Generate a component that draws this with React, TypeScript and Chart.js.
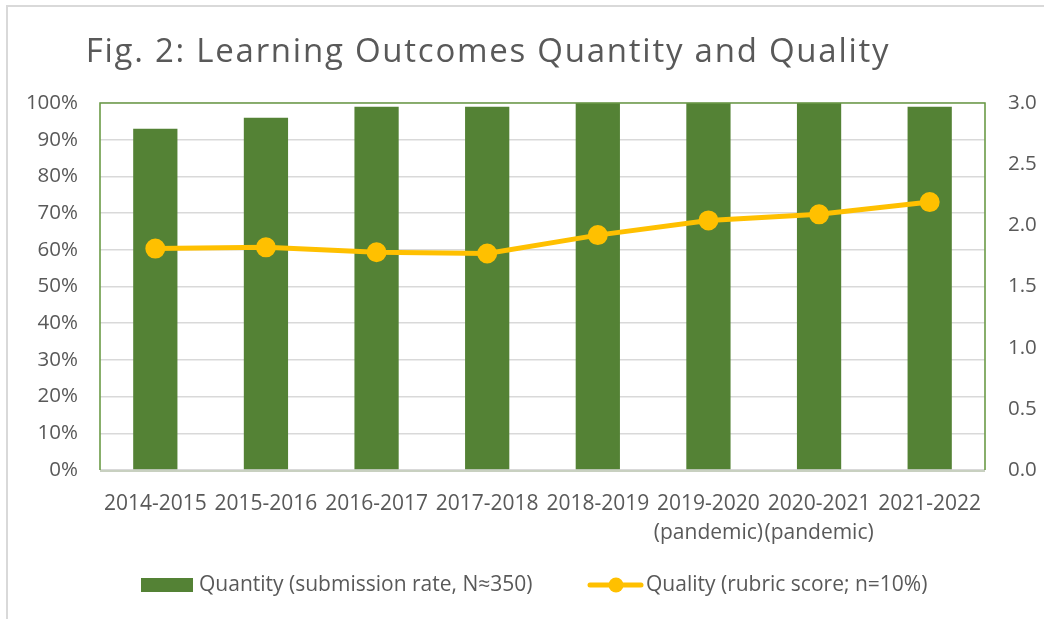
import React, { useEffect, useRef } from "react";
import { Chart, registerables } from "chart.js";

Chart.register(...registerables);

const TITLE = "Fig. 2: Learning Outcomes Quantity and Quality";
const categories: (string | string[])[] = [
  "2014-2015",
  "2015-2016",
  "2016-2017",
  "2017-2018",
  "2018-2019",
  ["2019-2020", "(pandemic)"],
  ["2020-2021", "(pandemic)"],
  "2021-2022",
];
const quantityLabel = "Quantity (submission rate, N≈350)";
const qualityLabel = "Quality (rubric score; n=10%)";
const quantity = [93, 96, 99, 99, 100, 100, 100, 99];
const quality = [1.81, 1.82, 1.78, 1.77, 1.92, 2.04, 2.09, 2.19];

const GREEN = "#548235";
const GOLD = "#FFC000";
const TEXT = "#595959";
const FONT = "'Open Sans', sans-serif";

const decorPlugin = {
  id: "decor",
  beforeDraw(chart: any) {
    const ctx = chart.ctx;
    ctx.save();
    ctx.fillStyle = "#ffffff";
    ctx.fillRect(0, 0, chart.width, chart.height);
    // outer chart frame (cropped: only top and left visible)
    ctx.fillStyle = "#d9d9d9";
    ctx.fillRect(6, 5, chart.width - 6, 2);
    ctx.fillRect(6, 5, 2, chart.height - 5);
    // title
    ctx.fillStyle = TEXT;
    ctx.font = `400 33px ${FONT}`;
    try {
      ctx.letterSpacing = "1.75px";
    } catch (e) {}
    ctx.textAlign = "center";
    ctx.textBaseline = "alphabetic";
    ctx.fillText(TITLE, 488, 62);
    try {
      ctx.letterSpacing = "0px";
    } catch (e) {}
    ctx.restore();
  },
  afterDatasetsDraw(chart: any) {
    const ctx = chart.ctx;
    const a = chart.chartArea;
    ctx.save();
    // bottom axis line
    ctx.strokeStyle = "#c8d0c0";
    ctx.lineWidth = 2;
    ctx.beginPath();
    ctx.moveTo(a.left, a.bottom + 1);
    ctx.lineTo(a.right, a.bottom + 1);
    ctx.stroke();
    // plot border
    ctx.strokeStyle = "#6B9B47";
    ctx.lineWidth = 1.6;
    ctx.beginPath();
    ctx.moveTo(a.left, a.bottom);
    ctx.lineTo(a.left, a.top);
    ctx.lineTo(a.right, a.top);
    ctx.lineTo(a.right, a.bottom);
    ctx.stroke();
    ctx.restore();
  },
  afterDraw(chart: any) {
    const ctx = chart.ctx;
    const ds = chart.data.datasets;
    ctx.save();
    ctx.font = `21px ${FONT}`;
    ctx.textBaseline = "middle";
    ctx.textAlign = "left";
    const y = 585;
    // bar legend
    ctx.fillStyle = ds[0].backgroundColor;
    ctx.fillRect(141, y - 7, 52, 14);
    ctx.fillStyle = TEXT;
    ctx.fillText(ds[0].label, 199, y);
    // line legend
    ctx.strokeStyle = ds[1].borderColor;
    ctx.lineWidth = 5;
    ctx.lineCap = "round";
    ctx.beginPath();
    ctx.moveTo(590, y);
    ctx.lineTo(641, y);
    ctx.stroke();
    ctx.fillStyle = ds[1].pointBackgroundColor;
    ctx.beginPath();
    ctx.arc(616, y, 7.5, 0, Math.PI * 2);
    ctx.fill();
    ctx.fillStyle = TEXT;
    ctx.fillText(ds[1].label, 646, y);
    ctx.restore();
  },
};

export default function App() {
  const ref = useRef<HTMLCanvasElement | null>(null);
  useEffect(() => {
    document.body.style.margin = "0";
    const canvas = ref.current!;
    const chart = new Chart(canvas, {
      type: "bar",
      data: {
        labels: categories as any,
        datasets: [
          {
            type: "bar",
            label: quantityLabel,
            data: quantity,
            backgroundColor: GREEN,
            borderWidth: 0,
            barPercentage: 0.4,
            categoryPercentage: 1,
            yAxisID: "y",
            order: 2,
          },
          {
            type: "line",
            label: qualityLabel,
            data: quality,
            borderColor: GOLD,
            backgroundColor: GOLD,
            pointBackgroundColor: GOLD,
            pointBorderColor: GOLD,
            pointRadius: 7.5,
            borderWidth: 5,
            tension: 0,
            yAxisID: "y1",
            order: 1,
          } as any,
        ],
      },
      options: {
        responsive: false,
        animation: false,
        layout: { padding: { top: 103, left: 0, right: 0, bottom: 0 } },
        plugins: {
          legend: { display: false },
          title: { display: false },
          tooltip: { enabled: false },
        },
        scales: {
          x: {
            grid: { display: false, drawTicks: false },
            border: { display: false },
            ticks: {
              color: TEXT,
              font: { family: FONT, size: 21, lineHeight: 1.38 },
              padding: 20,
              maxRotation: 0,
              autoSkip: false,
            },
            afterFit: (s: any) => {
              s.height = 149;
            },
          },
          y: {
            position: "left",
            min: 0,
            max: 100,
            grid: { color: "#d9d9d9", lineWidth: 1.5, drawTicks: false },
            border: { display: false },
            ticks: {
              stepSize: 10,
              color: TEXT,
              font: { family: FONT, size: 20.5 },
              padding: 22,
              callback: (v: any) => v + "%",
            },
            afterFit: (s: any) => {
              s.width = 100;
            },
          },
          y1: {
            position: "right",
            min: 0,
            max: 3,
            grid: { display: false, drawTicks: false },
            border: { display: false },
            ticks: {
              stepSize: 0.5,
              color: TEXT,
              font: { family: FONT, size: 20.5 },
              padding: 23,
              callback: (v: any) => Number(v).toFixed(1),
            },
            afterFit: (s: any) => {
              s.width = 59;
            },
          },
        },
      },
      plugins: [decorPlugin],
    });
    return () => chart.destroy();
  }, []);
  return (
    <div style={{ position: "fixed", left: 0, top: 0, width: 1044, height: 619, background: "#fff" }}>
      <canvas ref={ref} width={1044} height={619} style={{ display: "block", width: 1044, height: 619 }} />
    </div>
  );
}
